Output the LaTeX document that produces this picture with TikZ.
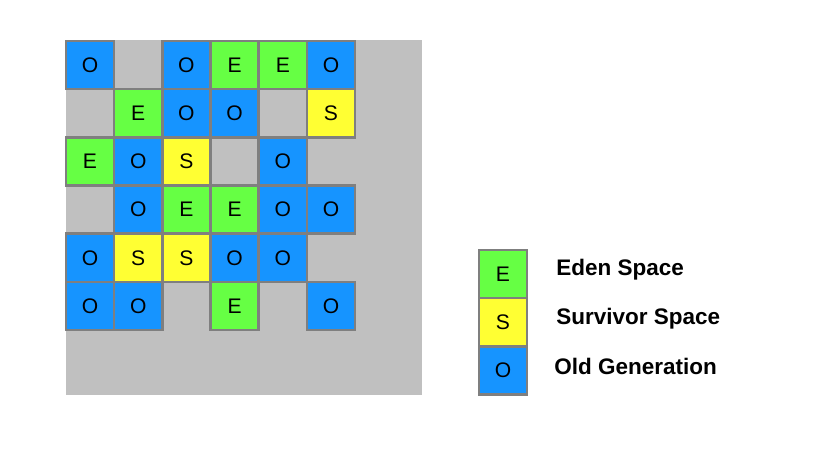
\documentclass[tikz,border=0pt]{standalone}
\usepackage{fontspec}
\setmainfont{Liberation Sans}
\usetikzlibrary{positioning}
\definecolor{heapgray}{HTML}{C0C0C0}
\definecolor{edgegray}{HTML}{7F7F7F}
\definecolor{eden}{HTML}{66FF44}
\definecolor{survivor}{HTML}{FFFF33}
\definecolor{oldgen}{HTML}{1694FF}
\tikzset{
  region/.style={draw=edgegray, line width=0.055cm, minimum size=0.964cm,
    inner sep=0pt, outer sep=0pt, font=\fontsize{12}{14}\selectfont},
  edencell/.style={region, fill=eden},
  survcell/.style={region, fill=survivor},
  oldcell/.style={region, fill=oldgen},
  legendtext/.style={anchor=west, inner sep=0pt, font=\fontsize{12.8}{15}\selectfont\bfseries}
}

\begin{document}
\begin{tikzpicture}[x=0.02cm, y=-0.02cm]
\useasboundingbox (0,0) rectangle (832,457);
% heap area
\fill[heapgray] (66,40) rectangle (422,395);
% regions: row/column/kind/letter
\foreach \r/\c/\k/\t in {
  0/0/old/O, 0/2/old/O, 0/3/eden/E, 0/4/eden/E, 0/5/old/O,
  1/1/eden/E, 1/2/old/O, 1/3/old/O, 1/5/surv/S,
  2/0/eden/E, 2/1/old/O, 2/2/surv/S, 2/4/old/O,
  3/1/old/O, 3/2/eden/E, 3/3/eden/E, 3/4/old/O, 3/5/old/O,
  4/0/old/O, 4/1/surv/S, 4/2/surv/S, 4/3/old/O, 4/4/old/O,
  5/0/old/O, 5/1/old/O, 5/3/eden/E, 5/5/old/O}
  \node[\k cell] (cell\r\c) at ({90+48.2*\c},{65+48.2*\r}) {\t};
% legend
\node[edencell] (legE) at (503,274) {E};
\node[survcell, below=0pt of legE] (legS) {S};
\node[oldcell, below=0pt of legS] (legO) {O};
\node[legendtext, right=0.58cm of legE.east, yshift=0.08cm] (txtE) {Eden Space};
\node[legendtext, right=0.58cm of legS.east, yshift=0.08cm] (txtS) {Survivor Space};
\node[legendtext, right=0.54cm of legO.east, yshift=0.08cm] (txtO) {Old Generation};
\end{tikzpicture}
\end{document}
